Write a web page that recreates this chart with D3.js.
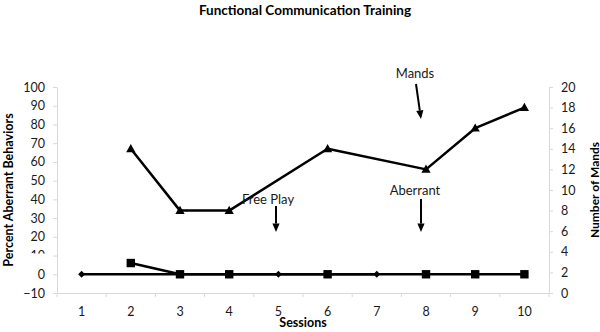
<!DOCTYPE html>
<html>
<head>
<meta charset="utf-8">
<script src="https://cdn.jsdelivr.net/npm/d3@7"></script>
<style>
  html, body { margin: 0; padding: 0; background: #fff; }
  svg { display: block; font-family: Lato, "Open Sans", sans-serif; }
</style>
</head>
<body>
<svg id="chart" width="600" height="332"></svg>
<script>
// Sessions and measured values
const sessions = [1, 2, 3, 4, 5, 6, 7, 8, 9, 10];
const mands = [null, 14, 8, 8, null, 14, null, 12, 16, 18];          // right axis
const aberrantFCT = [null, 6, 0, 0, null, 0, null, 0, 0, 0];          // left axis, squares
const aberrantFreePlay = [0, null, null, null, 0, null, 0, null, null, null]; // left axis, diamonds
const leftTicks = [-10, 0, 10, 20, 30, 40, 50, 60, 70, 80, 90, 100];
const rightTicks = [0, 2, 4, 6, 8, 10, 12, 14, 16, 18, 20];

const svg = d3.select("#chart");
const plotL = 57, plotR = 549, plotT = 87, plotB = 293;
const axisColor = "#d9d9d9";
const textColor = "#1a1a1a";

const x = d3.scaleBand().domain(sessions).range([plotL, plotR]);
const xc = d => x(d) + x.bandwidth() / 2;
const yL = d3.scaleLinear().domain([-10, 100]).range([plotB, plotT]);
const yR = d3.scaleLinear().domain([0, 20]).range([plotB, plotT]);

// Axes
function styleAxis(g) {
  g.selectAll(".domain").attr("stroke", axisColor);
  g.selectAll(".tick line").attr("stroke", axisColor);
  g.selectAll(".tick text").attr("fill", textColor).style("font-size", "12.5px")
    .style("font-family", "Lato, 'Open Sans', sans-serif");
}

svg.append("g").attr("transform", `translate(${plotL},0)`)
  .call(d3.axisLeft(yL).tickValues(leftTicks).tickSize(4).tickSizeOuter(0).tickPadding(8))
  .call(styleAxis);

svg.append("g").attr("transform", `translate(${plotR},0)`)
  .call(d3.axisRight(yR).tickValues(rightTicks).tickSize(4).tickSizeOuter(0).tickPadding(8))
  .call(styleAxis);

// Category axis: labels at centers, ticks at band boundaries
const xAxis = svg.append("g").attr("transform", `translate(0,${plotB})`)
  .call(d3.axisBottom(x).tickSize(0).tickSizeOuter(0).tickPadding(14))
  .call(styleAxis);
const bounds = sessions.map(d => x(d)).concat([x.range()[1]]);
xAxis.selectAll(".bound").data(bounds).join("line")
  .attr("class", "bound")
  .attr("x1", d => d).attr("x2", d => d)
  .attr("y1", 0).attr("y2", 4)
  .attr("stroke", axisColor);

// Blank box sitting over the "10" label
svg.append("rect").attr("x", 24).attr("y", yL(10) - 2).attr("width", 27).attr("height", 9).attr("fill", "#fff");

// Series lines (gaps bridged)
const pts = (vals, y) => sessions.map((s, i) => ({ s, v: vals[i] })).filter(p => p.v !== null)
  .map(p => ({ x: xc(p.s), y: y(p.v) }));
const line = d3.line().x(d => d.x).y(d => d.y);

const mandPts = pts(mands, yR);
const fctPts = pts(aberrantFCT, yL);
const fpPts = pts(aberrantFreePlay, yL);

[fpPts, fctPts, mandPts].forEach(p => {
  svg.append("path").attr("d", line(p)).attr("fill", "none")
    .attr("stroke", "#000").attr("stroke-width", 2.5).attr("stroke-linejoin", "round");
});

// Markers
svg.selectAll(".diamond").data(fpPts).join("path").attr("class", "diamond")
  .attr("d", d3.symbol(d3.symbolDiamond2, 30)())
  .attr("transform", d => `translate(${d.x},${d.y})`).attr("fill", "#000");
svg.selectAll(".square").data(fctPts).join("rect").attr("class", "square")
  .attr("x", d => d.x - 4.2).attr("y", d => d.y - 4.2).attr("width", 8.4).attr("height", 8.4).attr("fill", "#000");
svg.selectAll(".tri").data(mandPts).join("path").attr("class", "tri")
  .attr("d", "M0,-4.8L4.6,3.4L-4.6,3.4Z")
  .attr("transform", d => `translate(${d.x},${d.y})`).attr("fill", "#000");

// Annotation arrows
function arrow(x1, y1, x2, y2) {
  const a = Math.atan2(y2 - y1, x2 - x1), len = 8.5, hw = 3.6;
  const bx = x2 - len * Math.cos(a), by = y2 - len * Math.sin(a);
  svg.append("line").attr("x1", x1).attr("y1", y1).attr("x2", bx).attr("y2", by)
    .attr("stroke", "#000").attr("stroke-width", 2);
  const px = -Math.sin(a) * hw, py = Math.cos(a) * hw;
  svg.append("path")
    .attr("d", `M${x2},${y2}L${bx + px},${by + py}L${bx - px},${by - py}Z`).attr("fill", "#000");
}
const note = (t, cx, y) => svg.append("text").attr("x", cx).attr("y", y).attr("text-anchor", "middle")
  .attr("fill", textColor).style("font-size", "13px").text(t);

note("Free Play", 268, 204);
arrow(276, 206, 276, 232);
note("Mands", 415, 78);
arrow(416, 84, 421, 119);
note("Aberrant", 415, 195);
arrow(421, 199, 421, 232);

// Titles
svg.append("text").attr("x", 305).attr("y", 15).attr("text-anchor", "middle")
  .style("font-weight", "bold").style("font-size", "13.5px").attr("fill", "#000")
  .text("Functional Communication Training");
svg.append("text").attr("x", 303).attr("y", 327).attr("text-anchor", "middle")
  .style("font-weight", "bold").style("font-size", "12.5px").attr("fill", "#000").text("Sessions");
svg.append("text").attr("transform", "translate(13,190) rotate(-90)").attr("text-anchor", "middle")
  .style("font-weight", "bold").style("font-size", "12.5px").attr("fill", "#000").text("Percent Aberrant Behaviors");
svg.append("text").attr("transform", "translate(598.5,190) rotate(-90)").attr("text-anchor", "middle")
  .style("font-weight", "bold").style("font-size", "12px").attr("fill", "#000").text("Number of Mands");
</script>
</body>
</html>
